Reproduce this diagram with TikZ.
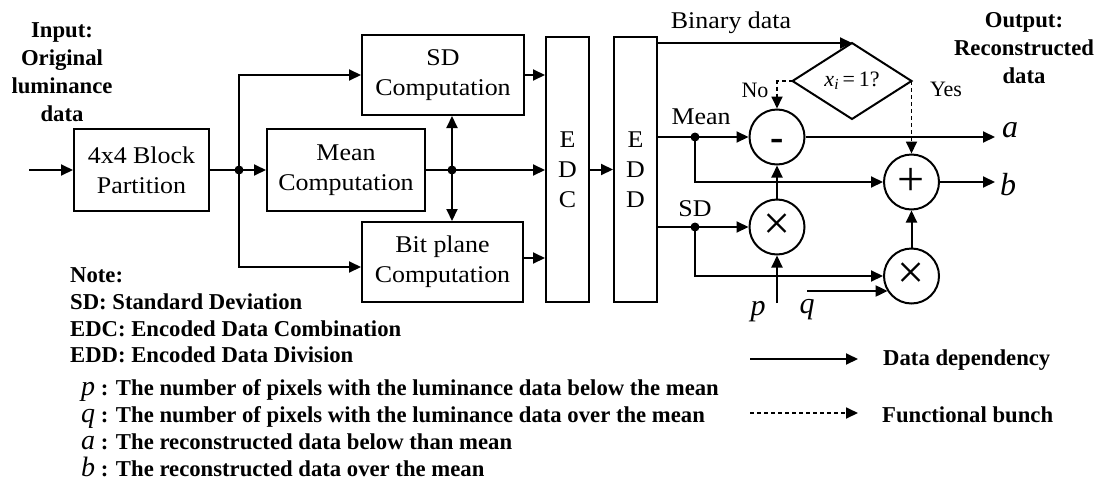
\documentclass[tikz,border=0pt]{standalone}
\usepackage{fontspec}
\setmainfont{Liberation Serif}
\newfontfamily\mainf[FakeStretch=1.08]{Liberation Serif}
\usetikzlibrary{arrows.meta,shapes.geometric}
\newcommand{\dgmain}{\mainf\fontsize{24}{30}\selectfont}
\newcommand{\dgbold}{\fontsize{22.7}{28}\selectfont\bfseries}
\newcommand{\dgnote}{\fontsize{22.7}{27}\selectfont\bfseries}
\newcommand{\dglbl}{\fontsize{22}{26}\selectfont}
\newcommand{\dgpq}{\fontsize{30}{30}\selectfont\itshape}
\newcommand{\dgab}{\fontsize{32}{32}\selectfont\itshape}
\newcommand{\dgnit}{\fontsize{28}{28}\selectfont\mdseries\itshape}
\newcommand{\dgop}{\fontsize{48}{48}\selectfont}
\begin{document}
\begin{tikzpicture}[x=1pt,y=-1pt,
  blk/.style={draw, line width=2pt, inner sep=0pt, align=center, font=\dgmain},
  arr/.style={line width=2pt, -{Triangle[length=12pt,width=11pt]}},
  darr/.style={line width=2pt, {Triangle[length=12pt,width=11pt]}-{Triangle[length=12pt,width=11pt]}},
  ln/.style={line width=2pt},
  jdot/.style={circle, fill, inner sep=0pt, minimum size=9pt},
  op/.style={circle, draw, line width=2pt, minimum size=55pt, inner sep=0pt, font=\dgop},
  fb/.style={line width=1.8pt, dash pattern=on 4pt off 3pt, -{Triangle[length=12pt,width=11pt]}},
  lbl/.style={inner sep=0pt, font=\dgmain},
  note/.style={inner sep=0pt, anchor=base west, font=\dgnote}]
\useasboundingbox (0,0) rectangle (1103,482);

% headings
\node[font=\dgbold, align=center, inner sep=0pt] (inp) at (62,72) {Input:\\Original\\luminance\\data};
\node[font=\dgbold, align=center, inner sep=0pt] (outp) at (1024,48) {Output:\\Reconstructed\\data};

% blocks
\node[blk, minimum width=135pt, minimum height=82pt] (bp) at (141.5,170) {4x4 Block\\Partition};
\node[blk, minimum width=158pt, minimum height=82pt] (mc) at (346,170) {Mean\\Computation};
\node[blk, minimum width=162pt, minimum height=80pt] (sdc) at (443,75) {SD\\Computation};
\node[blk, minimum width=161pt, minimum height=80pt] (bpc) at (442.5,262) {Bit plane\\Computation};
\node[blk, minimum width=43pt, minimum height=265pt] (edc) at (567.5,169.5) {E\\D\\C};
\node[blk, minimum width=43pt, minimum height=265pt] (edd) at (635.5,169.5) {E\\D\\D};

% junctions
\coordinate (in0) at (29,170);
\node[jdot] (j1) at (239,170) {};
\node[jdot] (j2) at (452,170) {};
\node[jdot] (dm) at (695,137) {};
\node[jdot] (ds) at (695,227) {};

% left part connectors
\draw[arr] (in0) -- (bp.west);
\draw[ln] (bp.east) -- (j1.center);
\draw[arr] (j1.center) -- (mc.west);
\draw[arr] (j1.center) |- (sdc.west);
\draw[arr] (j1.center) |- ([yshift=-5pt]bpc.west);
\draw[arr] (mc.east) -- (mc.east -| edc.west);
\draw[darr] (sdc.south -| j2.center) -- (bpc.north -| j2.center);
\draw[arr] (sdc.east) -- (sdc.east -| edc.west);
\draw[arr] ([yshift=4pt]bpc.east) -- ([yshift=4pt]bpc.east -| edc.west);
\draw[arr] (edc.east) -- (edd.west);

% decision
\node[diamond, draw, line width=2pt, aspect=1.57, minimum width=119pt, minimum height=76pt, inner sep=0pt, outer sep=0pt, font=\dglbl] (dia) at (852,81) {\textit{x}\textsubscript{\textit{i}}\,=\,1?};
\draw[arr] (edd.east |- dia.north) -- (dia.north);

% operators
\node[op, text height=0pt, text depth=0pt] (mi) at (777,137) {\fontsize{40}{40}\selectfont\bfseries\raisebox{-13pt}{-}};
\node[op] (pl) at (911.5,182) {+};
\node[op] (t1) at (777,227) {×};
\node[op] (t2) at (911.5,276) {×};

\draw[ln] (edd.east |- dm.center) -- (dm.center);
\draw[arr] (dm.center) -- (mi.west);
\draw[arr] (dm.center) |- (pl.west);
\draw[ln] (edd.east |- ds.center) -- (ds.center);
\draw[arr] (ds.center) -- (t1.west);
\draw[arr] (ds.center) |- (t2.west);
\draw[arr] (t1.north) -- (mi.south);
\draw[arr] (t2.north) -- (pl.south);
\coordinate (pin) at (777,303);
\draw[arr] (pin) -- (t1.south);
\coordinate (qin) at (807,291);
\draw[arr] (qin) -- (qin -| t2.213);
\coordinate (aout) at (995,137);
\draw[arr] (mi.east) -- (aout);
\coordinate (bout) at (995,182);
\draw[arr] (pl.east) -- (bout);
\draw[fb] (dia.west) -| (mi.north);
\draw[fb] (dia.east) -- (pl.north);

% labels
\node[lbl, anchor=base] (lbin) at (731,28) {Binary data};
\node[lbl, anchor=base] (lmean) at (701,124) {Mean};
\node[lbl, anchor=base] (lsd) at (695,216) {SD};
\node[inner sep=0pt, font=\dglbl, anchor=base] (lno) at (755,97) {No};
\node[inner sep=0pt, font=\dglbl, anchor=base] (lyes) at (946,96) {Yes};
\node[inner sep=0pt, font=\dgpq] (lp) at (758,312) {p};
\node[inner sep=0pt, font=\dgpq] (lq) at (807,310) {q};
\node[inner sep=0pt, font=\dgab, anchor=base west] (la) at (1002,137) {a};
\node[inner sep=0pt, font=\dgab, anchor=base west] (lb) at (1000,195) {b};

% notes
\node[note] (n0) at (70,282) {Note:};
\node[note] (n1) at (70,309) {SD: Standard Deviation};
\node[note] (n2) at (70,336) {EDC: Encoded Data Combination};
\node[note] (n3) at (70,362) {EDD: Encoded Data Division};
\node[note] (n4) at (81,395) {{\dgnit p} : The number of pixels with the luminance data below the mean};
\node[note] (n5) at (81,422) {{\dgnit q} : The number of pixels with the luminance data over the mean};
\node[note] (n6) at (81,449) {{\dgnit a} : The reconstructed data below than mean};
\node[note] (n7) at (81,476) {{\dgnit b} : The reconstructed data over the mean};

% legend
\coordinate (lg1a) at (750,359);
\coordinate (lg1b) at (858,359);
\draw[arr] (lg1a) -- (lg1b);
\node[inner sep=0pt, anchor=west, font=\dgbold] (lg1) at (883,360) {Data dependency};
\coordinate (lg2a) at (750,413);
\coordinate (lg2b) at (858,413);
\draw[fb] (lg2a) -- (lg2b);
\node[inner sep=0pt, anchor=west, font=\dgbold] (lg2) at (882,415) {Functional bunch};
\end{tikzpicture}
\end{document}
